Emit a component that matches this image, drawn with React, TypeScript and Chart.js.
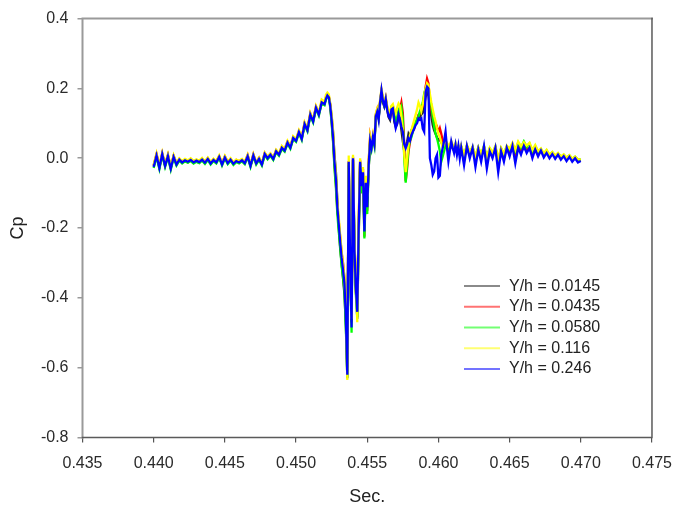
import React, { useEffect, useRef } from "react";
import { Chart, registerables } from "chart.js";

Chart.register(...registerables);

// Sample times (Sec.)
const SEC: number[] = [
  // 0.4400 .. 0.4520 step 0.0002
  0.4400, 0.4402, 0.4404, 0.4406, 0.4408, 0.4410, 0.4412, 0.4414, 0.4416, 0.4418,
  0.4420, 0.4422, 0.4424, 0.4426, 0.4428, 0.4430, 0.4432, 0.4434, 0.4436, 0.4438,
  0.4440, 0.4442, 0.4444, 0.4446, 0.4448, 0.4450, 0.4452, 0.4454, 0.4456, 0.4458,
  0.4460, 0.4462, 0.4464, 0.4466, 0.4468, 0.4470, 0.4472, 0.4474, 0.4476, 0.4478,
  0.4480, 0.4482, 0.4484, 0.4486, 0.4488, 0.4490, 0.4492, 0.4494, 0.4496, 0.4498,
  0.4500, 0.4502, 0.4504, 0.4506, 0.4508, 0.4510, 0.4512, 0.4514, 0.4516, 0.4518,
  0.4520,
  // 0.4521 .. 0.4615 step 0.0001
  0.4521, 0.4522, 0.4523, 0.4524, 0.4525, 0.4526, 0.4527, 0.4528, 0.4529, 0.4530,
  0.4531, 0.4532, 0.4533, 0.4534, 0.4535, 0.4536, 0.4537, 0.4538, 0.4539, 0.4540,
  0.4541, 0.4542, 0.4543, 0.4544, 0.4545, 0.4546, 0.4547, 0.4548, 0.4549, 0.4550,
  0.4551, 0.4552, 0.4553, 0.4554, 0.4555, 0.4556, 0.4557, 0.4558, 0.4559, 0.4560,
  0.4561, 0.4562, 0.4563, 0.4564, 0.4565, 0.4566, 0.4567, 0.4568, 0.4569, 0.4570,
  0.4571, 0.4572, 0.4573, 0.4574, 0.4575, 0.4576, 0.4577, 0.4578, 0.4579, 0.4580,
  0.4581, 0.4582, 0.4583, 0.4584, 0.4585, 0.4586, 0.4587, 0.4588, 0.4589, 0.4590,
  0.4591, 0.4592, 0.4593, 0.4594, 0.4595, 0.4596, 0.4597, 0.4598, 0.4599, 0.4600,
  0.4601, 0.4602, 0.4603, 0.4604, 0.4605, 0.4606, 0.4607, 0.4608, 0.4609, 0.4610,
  0.4611, 0.4612, 0.4613, 0.4614, 0.4615,
  // 0.4616 .. 0.4700 step 0.0002
  0.4616, 0.4618, 0.4620, 0.4622, 0.4624, 0.4626, 0.4628, 0.4630, 0.4632, 0.4634,
  0.4636, 0.4638, 0.4640, 0.4642, 0.4644, 0.4646, 0.4648, 0.4650, 0.4652, 0.4654,
  0.4656, 0.4658, 0.4660, 0.4662, 0.4664, 0.4666, 0.4668, 0.4670, 0.4672, 0.4674,
  0.4676, 0.4678, 0.4680, 0.4682, 0.4684, 0.4686, 0.4688, 0.4690, 0.4692, 0.4694,
  0.4696, 0.4698, 0.4700,
];

// Y/h = 0.0145 (black)
const CP_0145: number[] = [
  -0.022, 0.010, -0.025, 0.010, -0.020, 0.008, -0.027, 0.006, -0.016, -0.006,
  -0.010, -0.008, -0.012, -0.003, -0.010, -0.009, -0.013, -0.002, -0.011, -0.004,
  -0.013, -0.007, -0.010, 0.002, -0.016, 0.004, -0.012, -0.006, -0.014, -0.010,
  -0.010, -0.008, -0.012, 0.004, -0.020, 0.006, -0.013, -0.004, -0.016, 0.010,
  0.002, 0.008, 0.000, 0.018, 0.012, 0.028, 0.024, 0.042, 0.033, 0.055,
  0.052, 0.072, 0.058, 0.095, 0.083, 0.122, 0.108, 0.142, 0.128, 0.158,
  0.158,
  0.172, 0.178, 0.177, 0.155, 0.120, 0.075, 0.010, -0.040, -0.120, -0.200,
  -0.260, -0.300, -0.345, -0.390, -0.480, -0.630, -0.020, -0.330, -0.470, -0.005,
  -0.240, -0.350, -0.460, -0.230, -0.015, -0.075, -0.050, -0.190, -0.085, -0.120,
  -0.030, 0.040, 0.035, 0.055, 0.045, 0.115, 0.128, 0.115, 0.155, 0.190,
  0.160, 0.148, 0.165, 0.138, 0.118, 0.110, 0.135, 0.140, 0.105, 0.090,
  0.098, 0.120, 0.115, 0.080, 0.048, 0.020, 0.035, 0.048, 0.070, 0.062,
  0.080, 0.085, 0.090, 0.100, 0.108, 0.120, 0.118, 0.125, 0.130, 0.150,
  0.175, 0.190, 0.180, 0.150, 0.120, 0.095, 0.080, 0.070, 0.060, 0.050,
  0.055, 0.045, 0.040, 0.035, 0.045, 0.030, 0.020, 0.030, 0.040, 0.028,
  0.022, 0.035, 0.018, 0.030, 0.012,
  0.028, 0.000, 0.030, 0.010, 0.028, -0.005, 0.025, 0.005, 0.030, -0.010,
  0.022, 0.010, 0.028, -0.015, 0.022, 0.005, 0.028, 0.015, 0.032, 0.005,
  0.030, 0.018, 0.032, 0.020, 0.028, 0.010, 0.025, 0.012, 0.022, 0.008,
  0.018, 0.006, 0.014, 0.004, 0.012, 0.002, 0.008, -0.002, 0.006, -0.004,
  0.002, -0.006, -0.006,
];

// Y/h = 0.0435 (red)
const CP_0435: number[] = [
  -0.020, 0.012, -0.024, 0.014, -0.019, 0.009, -0.026, 0.007, -0.015, -0.002,
  -0.009, -0.004, -0.008, -0.002, -0.009, -0.005, -0.009, -0.001, -0.010, 0.000,
  -0.012, -0.003, -0.009, 0.006, -0.015, 0.005, -0.011, -0.002, -0.013, -0.005,
  -0.009, -0.003, -0.011, 0.009, -0.019, 0.011, -0.012, 0.001, -0.015, 0.015,
  0.003, 0.013, 0.001, 0.023, 0.013, 0.033, 0.025, 0.048, 0.034, 0.061,
  0.053, 0.078, 0.059, 0.101, 0.084, 0.128, 0.109, 0.148, 0.129, 0.163,
  0.159,
  0.175, 0.182, 0.178, 0.152, 0.105, 0.050, -0.020, -0.075, -0.150, -0.180,
  -0.225, -0.270, -0.300, -0.345, -0.440, -0.600, -0.008, -0.280, -0.470, 0.004,
  -0.275, -0.385, -0.420, -0.180, -0.006, -0.090, -0.030, -0.225, -0.060, -0.150,
  -0.010, 0.060, 0.034, 0.064, 0.044, 0.125, 0.140, 0.118, 0.162, 0.192,
  0.168, 0.155, 0.172, 0.145, 0.128, 0.122, 0.145, 0.148, 0.118, 0.100,
  0.110, 0.135, 0.140, 0.160, 0.130, 0.040, -0.066, -0.030, 0.020, 0.045,
  0.070, 0.090, 0.085, 0.100, 0.110, 0.125, 0.128, 0.140, 0.150, 0.175,
  0.205, 0.228, 0.215, 0.165, 0.140, 0.115, 0.100, 0.085, 0.090, 0.075,
  0.086, 0.070, 0.050, 0.045, 0.040, 0.032, 0.025, 0.035, 0.042, 0.030,
  0.026, 0.038, 0.020, 0.032, 0.015,
  0.032, 0.005, 0.034, 0.012, 0.030, 0.000, 0.028, 0.008, 0.032, -0.005,
  0.025, 0.012, 0.030, -0.010, 0.026, 0.008, 0.030, 0.020, 0.036, 0.010,
  0.034, 0.022, 0.036, 0.025, 0.030, 0.014, 0.028, 0.015, 0.024, 0.010,
  0.020, 0.008, 0.016, 0.006, 0.013, 0.003, 0.009, 0.000, 0.007, -0.003,
  0.003, -0.005, -0.005,
];

// Y/h = 0.0580 (green)
const CP_0580: number[] = [
  -0.028, 0.004, -0.031, 0.009, -0.025, 0.003, -0.033, 0.001, -0.021, -0.007,
  -0.015, -0.009, -0.013, -0.008, -0.015, -0.010, -0.014, -0.007, -0.016, -0.005,
  -0.018, -0.008, -0.015, 0.001, -0.021, -0.001, -0.017, -0.007, -0.019, -0.011,
  -0.015, -0.009, -0.017, 0.003, -0.025, 0.005, -0.018, -0.005, -0.021, 0.009,
  -0.003, 0.007, -0.005, 0.017, 0.007, 0.027, 0.019, 0.042, 0.027, 0.055,
  0.047, 0.072, 0.052, 0.095, 0.077, 0.122, 0.102, 0.142, 0.122, 0.157,
  0.152,
  0.168, 0.176, 0.172, 0.146, 0.100, 0.045, -0.030, -0.085, -0.160, -0.210,
  -0.255, -0.310, -0.340, -0.380, -0.490, -0.625, -0.014, -0.320, -0.500, -0.004,
  -0.245, -0.390, -0.455, -0.220, -0.014, -0.100, -0.044, -0.230, -0.090, -0.160,
  -0.030, 0.046, 0.026, 0.056, 0.036, 0.122, 0.135, 0.115, 0.158, 0.188,
  0.170, 0.152, 0.168, 0.142, 0.130, 0.125, 0.148, 0.150, 0.125, 0.105,
  0.115, 0.138, 0.130, 0.145, 0.110, 0.000, -0.070, -0.020, 0.030, 0.050,
  0.060, 0.075, 0.090, 0.105, 0.112, 0.120, 0.135, 0.145, 0.160, 0.185,
  0.200, 0.205, 0.195, 0.175, 0.153, 0.120, 0.090, 0.070, 0.057, 0.040,
  0.020, -0.010, 0.005, 0.020, 0.035, 0.040, 0.030, 0.036, 0.045, 0.034,
  0.030, 0.040, 0.024, 0.034, 0.018,
  0.034, 0.008, 0.036, 0.015, 0.032, 0.004, 0.030, 0.010, 0.035, 0.000,
  0.028, 0.014, 0.033, -0.005, 0.028, 0.012, 0.034, 0.025, 0.040, 0.020,
  0.045, 0.030, 0.048, 0.032, 0.042, 0.020, 0.035, 0.018, 0.026, 0.012,
  0.022, 0.009, 0.017, 0.006, 0.014, 0.004, 0.010, 0.001, 0.008, -0.002,
  0.004, -0.004, -0.004,
];

// Y/h = 0.116 (yellow)
const CP_116: number[] = [
  -0.018, 0.014, -0.022, 0.016, -0.017, 0.011, -0.024, 0.009, -0.013, 0.000,
  -0.008, -0.002, -0.006, 0.000, -0.008, -0.003, -0.007, 0.001, -0.009, 0.002,
  -0.011, -0.001, -0.008, 0.008, -0.014, 0.007, -0.010, 0.000, -0.012, -0.004,
  -0.008, -0.002, -0.010, 0.010, -0.018, 0.012, -0.011, 0.002, -0.014, 0.016,
  0.004, 0.014, 0.002, 0.024, 0.014, 0.035, 0.026, 0.050, 0.035, 0.063,
  0.055, 0.080, 0.060, 0.103, 0.085, 0.130, 0.110, 0.150, 0.130, 0.168,
  0.162,
  0.182, 0.188, 0.183, 0.158, 0.125, 0.080, 0.005, -0.045, -0.125, -0.170,
  -0.220, -0.265, -0.305, -0.340, -0.430, -0.635, 0.008, -0.270, -0.460, 0.010,
  -0.230, -0.340, -0.470, -0.170, 0.000, -0.060, -0.025, -0.180, -0.050, -0.110,
  -0.005, 0.062, 0.040, 0.068, 0.048, 0.128, 0.142, 0.125, 0.168, 0.198,
  0.178, 0.160, 0.175, 0.150, 0.135, 0.130, 0.150, 0.155, 0.140, 0.130,
  0.145, 0.157, 0.150, 0.120, 0.080, 0.010, -0.040, 0.000, 0.040, 0.065,
  0.080, 0.095, 0.110, 0.125, 0.140, 0.160, 0.150, 0.135, 0.155, 0.180,
  0.200, 0.215, 0.210, 0.185, 0.160, 0.140, 0.120, 0.105, 0.086, 0.070,
  0.060, 0.045, 0.030, 0.040, 0.050, 0.045, 0.035, 0.040, 0.050, 0.038,
  0.032, 0.044, 0.026, 0.036, 0.020,
  0.036, 0.010, 0.038, 0.018, 0.034, 0.006, 0.032, 0.012, 0.036, 0.004,
  0.030, 0.016, 0.035, 0.000, 0.030, 0.014, 0.036, 0.028, 0.044, 0.024,
  0.048, 0.034, 0.046, 0.036, 0.044, 0.024, 0.038, 0.020, 0.028, 0.014,
  0.024, 0.010, 0.018, 0.008, 0.015, 0.005, 0.011, 0.002, 0.009, -0.001,
  0.005, -0.003, -0.004,
];

// Y/h = 0.246 (blue)
const CP_246: number[] = [
  -0.025, 0.008, -0.028, 0.012, -0.022, 0.006, -0.030, 0.004, -0.018, -0.004,
  -0.012, -0.006, -0.010, -0.005, -0.012, -0.007, -0.011, -0.004, -0.013, -0.002,
  -0.015, -0.005, -0.012, 0.004, -0.018, 0.002, -0.014, -0.004, -0.016, -0.008,
  -0.012, -0.006, -0.014, 0.006, -0.022, 0.008, -0.015, -0.002, -0.018, 0.012,
  0.000, 0.010, -0.002, 0.020, 0.010, 0.030, 0.022, 0.045, 0.030, 0.058,
  0.050, 0.075, 0.055, 0.098, 0.080, 0.125, 0.105, 0.145, 0.125, 0.160,
  0.155,
  0.170, 0.180, 0.175, 0.150, 0.110, 0.060, -0.010, -0.060, -0.140, -0.190,
  -0.240, -0.285, -0.320, -0.360, -0.460, -0.620, -0.010, -0.300, -0.485, 0.000,
  -0.260, -0.370, -0.440, -0.200, -0.010, -0.080, -0.040, -0.210, -0.070, -0.140,
  -0.020, 0.050, 0.030, 0.060, 0.040, 0.120, 0.133, 0.110, 0.160, 0.195,
  0.165, 0.150, 0.170, 0.140, 0.120, 0.114, 0.140, 0.143, 0.110, 0.086,
  0.100, 0.125, 0.110, 0.090, 0.076, 0.040, 0.029, 0.040, 0.057, 0.050,
  0.066, 0.076, 0.085, 0.095, 0.100, 0.114, 0.110, 0.114, 0.085, 0.076,
  0.190, 0.205, 0.200, 0.000, -0.019, -0.047, -0.038, 0.000, 0.010, -0.055,
  -0.050, 0.010, 0.029, 0.050, 0.076, 0.030, -0.009, 0.020, 0.048, 0.030,
  0.015, 0.038, 0.010, 0.035, 0.000,
  0.030, -0.020, 0.035, 0.000, 0.030, -0.025, 0.025, -0.010, 0.035, -0.030,
  0.020, 0.000, 0.030, -0.040, 0.020, -0.010, 0.030, 0.005, 0.035, -0.015,
  0.030, 0.010, 0.035, 0.015, 0.030, 0.000, 0.025, 0.005, 0.022, 0.002,
  0.015, 0.000, 0.012, -0.002, 0.010, -0.004, 0.006, -0.008, 0.004, -0.010,
  0.000, -0.012, -0.008,
];

const SERIES_LABELS = ["Y/h = 0.0145", "Y/h = 0.0435", "Y/h = 0.0580", "Y/h = 0.116", "Y/h = 0.246"];
const SERIES_COLORS = ["#2a2a2a", "#ff0000", "#00ff00", "#ffff00", "#0000ff"];
const SERIES_VALUES = [CP_0145, CP_0435, CP_0580, CP_116, CP_246];

const X_TICKS = [0.435, 0.44, 0.445, 0.45, 0.455, 0.46, 0.465, 0.47, 0.475];
const Y_TICKS = [-0.8, -0.6, -0.4, -0.2, 0.0, 0.2, 0.4];

const FONT = "'Liberation Sans', Arial, Helvetica, sans-serif";

const framePlugin = {
  id: "frameAndLegend",
  afterDatasetsDraw(chart: any) {
    const { ctx, chartArea: a } = chart;
    ctx.save();
    ctx.lineCap = "square";
    ctx.strokeStyle = "#9a9a9a";
    ctx.lineWidth = 2;
    ctx.beginPath();
    ctx.moveTo(a.left, a.bottom);
    ctx.lineTo(a.left, a.top);
    ctx.lineTo(a.right, a.top);
    ctx.stroke();
    ctx.strokeStyle = "#5a5a5a";
    ctx.lineWidth = 1.5;
    ctx.beginPath();
    ctx.moveTo(a.left, a.bottom);
    ctx.lineTo(a.right, a.bottom);
    ctx.lineTo(a.right, a.top);
    ctx.stroke();
    ctx.restore();
  },
  afterDraw(chart: any) {
    const { ctx, chartArea: a } = chart;
    ctx.save();
    const x0 = a.left + 381.5;
    const x1 = a.left + 417.5;
    const tx = a.left + 426.5;
    const y0 = a.top + 267.5;
    const step = 20.7;
    ctx.font = `16px ${FONT}`;
    ctx.textBaseline = "middle";
    ctx.textAlign = "left";
    SERIES_LABELS.forEach((lab, i) => {
      const y = y0 + i * step;
      ctx.globalAlpha = 0.55;
      ctx.strokeStyle = SERIES_COLORS[i];
      ctx.lineWidth = 2;
      ctx.beginPath();
      ctx.moveTo(x0, y);
      ctx.lineTo(x1, y);
      ctx.stroke();
      ctx.globalAlpha = 1;
      ctx.fillStyle = "#222";
      ctx.fillText(lab, tx, y);
    });
    ctx.restore();
  },
};

export default function App() {
  const ref = useRef<HTMLCanvasElement | null>(null);
  useEffect(() => {
    document.body.style.margin = "0";
    if (!ref.current) return;
    Chart.defaults.font.family = FONT;
    // blue first in the array so it is drawn on top
    const order = [4, 3, 2, 1, 0];
    const datasets = order.map((k) => ({
      label: SERIES_LABELS[k],
      data: SEC.map((x, i) => ({ x, y: SERIES_VALUES[k][i] })),
      borderColor: SERIES_COLORS[k],
      backgroundColor: SERIES_COLORS[k],
      borderWidth: 2.3,
      pointRadius: 0,
      tension: 0,
      fill: false,
    }));
    const chart = new Chart(ref.current, {
      type: "line",
      data: { datasets },
      plugins: [framePlugin],
      options: {
        responsive: false,
        animation: false,
        devicePixelRatio: 1,
        layout: { padding: { left: 0, top: 16.5, right: 23.5, bottom: 0 } },
        plugins: { legend: { display: false }, tooltip: { enabled: false } },
        scales: {
          x: {
            type: "linear",
            min: 0.435,
            max: 0.475,
            afterBuildTicks: (s: any) => {
              s.ticks = X_TICKS.map((v) => ({ value: v }));
            },
            afterFit: (s: any) => {
              s.height = 70.5;
            },
            ticks: {
              callback: (v: any) => Number(v).toFixed(3),
              font: { size: 16, family: FONT },
              color: "#2a2a2a",
              padding: 11,
              maxRotation: 0,
              autoSkip: false,
            },
            grid: { drawOnChartArea: false, drawTicks: true, tickLength: 5, color: "#555", lineWidth: 1.2 },
            border: { display: false },
            title: { display: true, text: "Sec.", font: { size: 18, family: FONT }, color: "#222", padding: { top: 0, bottom: 0 } },
          },
          y: {
            type: "linear",
            min: -0.8,
            max: 0.4,
            afterBuildTicks: (s: any) => {
              s.ticks = Y_TICKS.map((v) => ({ value: v }));
            },
            afterFit: (s: any) => {
              s.width = 82.5;
            },
            ticks: {
              callback: (v: any) => Number(v).toFixed(1),
              font: { size: 16, family: FONT },
              color: "#2a2a2a",
              padding: 9,
              autoSkip: false,
            },
            grid: { drawOnChartArea: false, drawTicks: true, tickLength: 5, color: "#999", lineWidth: 1.5 },
            border: { display: false },
            title: { display: true, text: "Cp", font: { size: 18, family: FONT }, color: "#222", padding: { top: 7, bottom: 0 } },
          },
        },
      },
    } as any);
    return () => chart.destroy();
  }, []);
  return (
    <div style={{ width: 683, height: 508 }}>
      <canvas ref={ref} width={683} height={508} style={{ display: "block", width: 683, height: 508 }} />
    </div>
  );
}
